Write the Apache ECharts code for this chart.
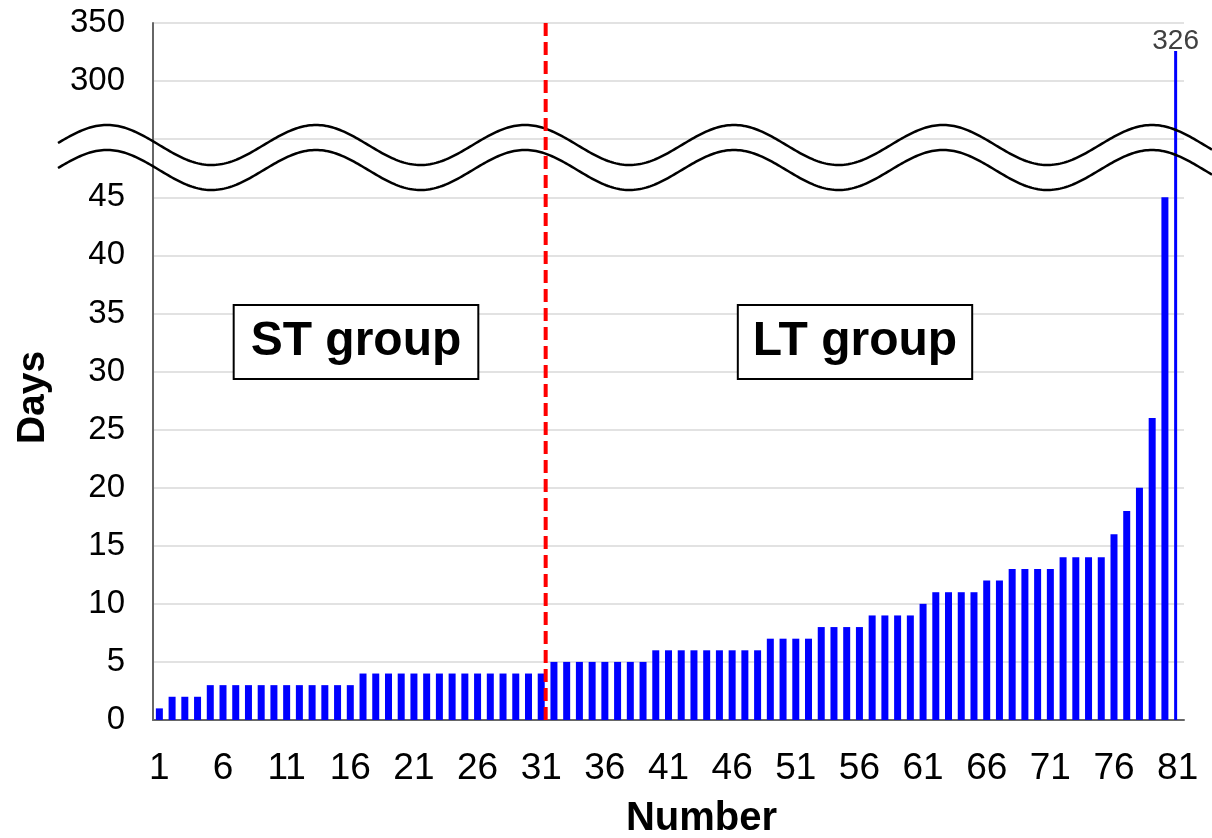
<!DOCTYPE html>
<html>
<head>
<meta charset="utf-8">
<script src="https://cdn.jsdelivr.net/npm/echarts@6/dist/echarts.min.js"></script>
<style>html,body{margin:0;padding:0;background:#fff}#c{width:1212px;height:838px}</style>
</head>
<body>
<div id="c"></div>
<script>
// ---- data ----
const categories = ['1','2','3','4','5','6','7','8','9','10','11','12','13','14','15','16','17','18','19','20',
  '21','22','23','24','25','26','27','28','29','30','31','32','33','34','35','36','37','38','39','40',
  '41','42','43','44','45','46','47','48','49','50','51','52','53','54','55','56','57','58','59','60',
  '61','62','63','64','65','66','67','68','69','70','71','72','73','74','75','76','77','78','79','80','81'];
const days = [1,2,2,2,3,3,3,3,3,3,3,3,3,3,3,3,
  4,4,4,4,4,4,4,4,4,4,4,4,4,4,4,
  5,5,5,5,5,5,5,5,
  6,6,6,6,6,6,6,6,6,
  7,7,7,7,
  8,8,8,8,
  9,9,9,9,
  10,
  11,11,11,11,
  12,12,
  13,13,13,13,
  14,14,14,14,
  16,18,20,26,45,326];
const yTickLabels = ['0','5','10','15','20','25','30','35','40','45','','300','350'];
const groupLabels = ['ST group','LT group'];
const dividerX = 31.35; // boundary between groups, in category units

// broken axis: 0..50 linear, 300..350 mapped onto 55..60
function toAxis(v){ return v <= 50 ? v : 55 + (v - 300) / 10; }

const mainData = days.map(v => v > 50 ? null : toAxis(v));
const bigData = days.map(v => v > 50 ? toAxis(v) : null);

const FONT = '"Liberation Sans", Arial, sans-serif';
const chart = echarts.init(document.getElementById('c'), null, {renderer:'canvas'});

// wave break decoration
function wave(centerY){
  const pts = [];
  for (let x = 58; x <= 1212; x += 2) {
    pts.push([x, centerY - 20 * Math.cos(2 * Math.PI * (x - 107) / 209)]);
  }
  return pts;
}

const option = {
  animation: false,
  backgroundColor: '#fff',
  grid: {left: 153, right: 28, top: 23, bottom: 118, containLabel: false, outerBoundsMode: 'none'},
  xAxis: [{
    type: 'category',
    data: categories,
    boundaryGap: true,
    axisLine: {lineStyle: {color: '#666', width: 2}},
    axisTick: {show: false},
    axisLabel: {interval: 4, fontSize: 37, color: '#000', margin: 30, fontFamily: FONT},
    name: 'Number',
    nameLocation: 'middle',
    nameGap: 79,
    nameTextStyle: {fontSize: 40, fontWeight: 'bold', color: '#000', fontFamily: FONT, padding: [0, 0, 0, 66]}
  }, {
    type: 'value', show: false, min: 0.5, max: 81.5
  }],
  yAxis: {
    type: 'value',
    min: 0, max: 60, interval: 5,
    axisLine: {show: true, lineStyle: {color: '#666', width: 2}},
    axisTick: {show: false},
    splitLine: {lineStyle: {color: '#d9d9d9', width: 1.5}},
    axisLabel: {fontSize: 33, color: '#000', margin: 28, fontFamily: FONT,
      formatter: v => yTickLabels[Math.round(v / 5)]},
    name: 'Days',
    nameLocation: 'middle',
    nameRotate: 90,
    nameGap: 100,
    nameTextStyle: {fontSize: 39, fontWeight: 'bold', color: '#000', fontFamily: FONT, padding: [0, 52, 0, 0]}
  },
  series: [{
    name: 'long',
    type: 'bar',
    data: bigData,
    barWidth: 3,
    itemStyle: {color: '#0000ff'},
    label: {show: true, position: 'top', distance: 2, offset: [0, 6],
      fontSize: 28, color: '#404040', fontFamily: FONT,
      formatter: p => String(days[p.dataIndex])}
  }, {
    name: 'days',
    type: 'bar',
    data: mainData,
    barWidth: 7,
    barGap: '-100%',
    itemStyle: {color: '#0000ff'}
  }, {
    name: 'divider',
    type: 'line',
    xAxisIndex: 1,
    data: [[dividerX, 0], [dividerX, 60]],
    symbol: 'none',
    silent: true,
    z: 10,
    lineStyle: {color: '#ff0000', width: 4, type: [13, 6]}
  }],
  graphic: [
    {type: 'polyline', z: 5, silent: true, shape: {points: wave(145)}, style: {stroke: '#000', lineWidth: 2.5, fill: null}},
    {type: 'polyline', z: 5, silent: true, shape: {points: wave(170)}, style: {stroke: '#000', lineWidth: 2.5, fill: null}},
    {type: 'text', z: 6, x: 356, y: 342, style: {text: groupLabels[0], font: 'bold 48px ' + FONT, fill: '#000',
      align: 'center', verticalAlign: 'middle', textAlign: 'center', textVerticalAlign: 'middle',
      backgroundColor: '#fff', borderColor: '#000', borderWidth: 2, padding: [12, 16]}},
    {type: 'text', z: 6, x: 855, y: 342, style: {text: groupLabels[1], font: 'bold 48px ' + FONT, fill: '#000',
      align: 'center', verticalAlign: 'middle', textAlign: 'center', textVerticalAlign: 'middle',
      backgroundColor: '#fff', borderColor: '#000', borderWidth: 2, padding: [12, 14]}}
  ]
};
chart.setOption(option);
</script>
</body>
</html>
